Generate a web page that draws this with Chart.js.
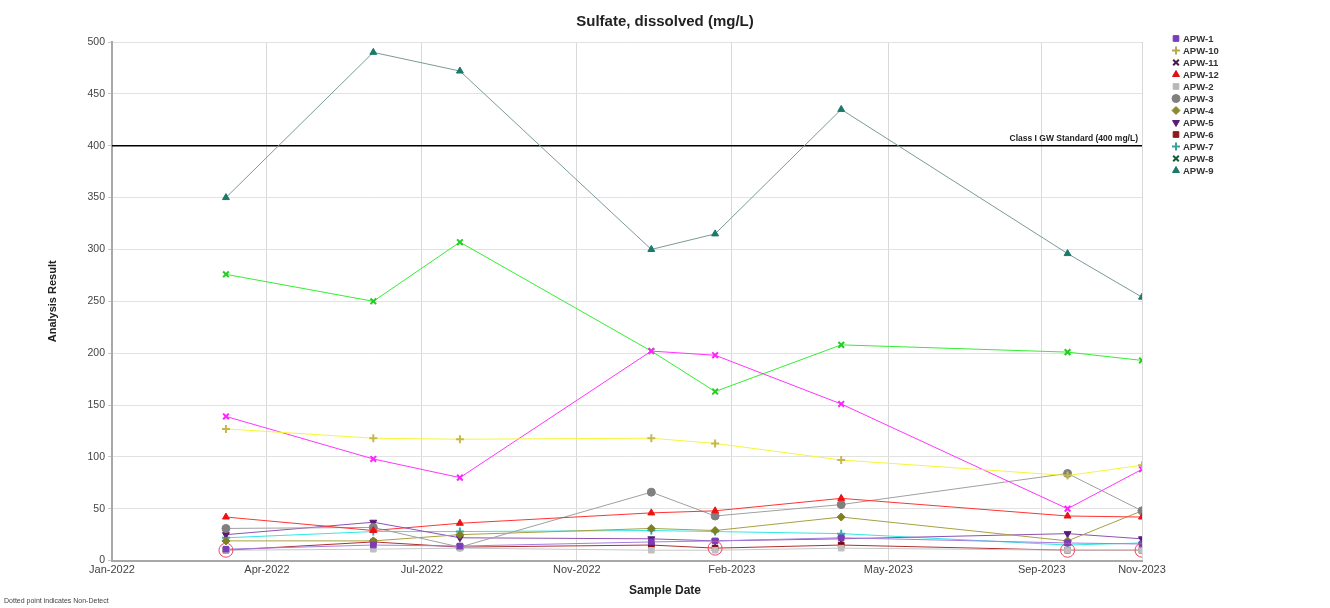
<!DOCTYPE html>
<html>
<head>
<meta charset="utf-8">
<script src="https://cdn.jsdelivr.net/npm/chart.js@4.4.0/dist/chart.umd.min.js"></script>
<style>
  body { margin: 0; background: #fff; }
  #wrap { position: relative; width: 1330px; height: 608px; }
  #note { position: absolute; left: 4px; top: 597px; font: 7px "Liberation Sans", Arial, sans-serif; color: #444; }
</style>
</head>
<body>
<div id="wrap">
  <canvas id="chart" width="1330" height="608"></canvas>
  <div id="note">Dotted point indicates Non-Detect</div>
</div>
<script>
// sample dates and results (mg/L)
const sampleDates = ['2022-03-17', '2022-06-22', '2022-08-18', '2022-12-22', '2023-02-02', '2023-04-26', '2023-09-22', '2023-11-10'];
const tickDates = ['2022-01-01', '2022-04-13', '2022-07-24', '2022-11-03', '2023-02-13', '2023-05-27', '2023-09-05', '2023-11-10'];
const tickLabels = ['Jan-2022', 'Apr-2022', 'Jul-2022', 'Nov-2022', 'Feb-2023', 'May-2023', 'Sep-2023', 'Nov-2023'];

const apw1 = [11, 15, 14, 18, 19, 22, 17, 16];
const apw10 = [127, 118, 117, 118, 113, 97, 82, 92];
const apw11 = [139, 98, 80, 202, 198, 151, 50, 88];
const apw12 = [42, 29, 36, 46, 48, 60, 43, 42];
const apw2 = [10, 11, 12, 10, 10, 12, 10, 10];
const apw3 = [31, 32, 13, 66, 43, 54, 84, 48];
const apw4 = [19, 19, 25, 31, 29, 42, 19, 48];
const apw5 = [25, 37, 22, 21, 19, 21, 26, 21];
const apw6 = [10, 18, 13, 15, 12, 15, 10, 10];
const apw7 = [22, 28, 28, 29, 28, 26, 15, 17];
const apw8 = [276, 250, 307, 202, 163, 208, 201, 193];
const apw9 = [350, 490, 472, 300, 315, 435, 296, 254];

const apw6NonDetect = [true, false, false, false, true, false, true, true];
const gwStandard = 400;

const t0 = Date.parse(tickDates[0]);
const dayOf = d => (Date.parse(d) - t0) / 86400000;
const xMax = dayOf(tickDates[tickDates.length - 1]);
const tickDays = tickDates.map(dayOf);

function pts(values) {
    return values.map((v, i) => ({ x: dayOf(sampleDates[i]), y: v }));
}

function series(label, values, line, marker, legendColor, style, extra) {
    return Object.assign({
        label: label,
        data: pts(values),
        borderColor: line,
        borderWidth: 1,
        pointStyle: style,
        pointRadius: 4,
        pointBackgroundColor: marker,
        pointBorderColor: marker,
        pointBorderWidth: 1,
        legendColor: legendColor,
        inLegend: true,
        tension: 0
    }, extra || {});
}

const ndPoints = [];
apw6.forEach((v, i) => {
    if (apw6NonDetect[i]) ndPoints.push({ x: dayOf(sampleDates[i]), y: v });
});

const datasets = [
    {
        label: 'Non-Detect',
        data: ndPoints,
        showLine: false,
        pointStyle: 'circle',
        pointRadius: 7,
        pointBackgroundColor: 'rgba(0,0,0,0)',
        pointBorderColor: '#ee4466',
        pointBorderWidth: 1
    },
    series('APW-1', apw1, '#a57ee0', '#7a3db8', '#7a3db8', 'rect'),
    series('APW-10', apw10, '#f5f53a', '#c8b84a', '#b8a850', 'cross', { pointBorderWidth: 2 }),
    series('APW-11', apw11, '#ff33ff', '#ff22ff', '#4a1a4a', 'crossRot', { pointBorderWidth: 2 }),
    series('APW-12', apw12, '#ff3333', '#ee1111', '#dd1111', 'triangle'),
    series('APW-2', apw2, '#c8c8c8', '#c0c0c0', '#b8b8b8', 'rect'),
    series('APW-3', apw3, '#a0a0a0', '#808080', '#808080', 'circle'),
    series('APW-4', apw4, '#a8a040', '#808020', '#8a8a30', 'rectRot'),
    series('APW-5', apw5, '#9050b0', '#5a1a7a', '#5a1a7a', 'triangle', { pointRotation: 180 }),
    series('APW-6', apw6, '#b03030', '#800000', '#8b1a1a', 'rect'),
    series('APW-7', apw7, '#33e6e6', '#30b0b0', '#3aa0a0', 'cross', { pointBorderWidth: 2 }),
    series('APW-8', apw8, '#33ee33', '#22cc22', '#1a5a3a', 'crossRot', { pointBorderWidth: 2 }),
    series('APW-9', apw9, '#7a9a9a', '#1a7a6a', '#1a7a6a', 'triangle'),
    {
        label: 'Class I GW Standard',
        data: [{ x: 0, y: gwStandard }, { x: xMax, y: gwStandard }],
        borderColor: '#000',
        borderWidth: 1.5,
        pointRadius: 0
    }
];

const FONT = '"Liberation Sans", Arial, sans-serif';

// legend drawn at the right of the plot, plus the standard label
const sideLegend = {
    id: 'sideLegend',
    afterDraw(chart) {
        const ctx = chart.ctx;
        ctx.save();
        ctx.font = 'bold 9.5px ' + FONT;
        ctx.textBaseline = 'middle';
        ctx.textAlign = 'left';
        let y = 38.5;
        chart.data.datasets.forEach(ds => {
            if (!ds.inLegend) return;
            ctx.fillStyle = ds.legendColor;
            ctx.strokeStyle = ds.legendColor;
            ctx.lineWidth = ds.pointBorderWidth;
            Chart.helpers.drawPoint(ctx, {
                pointStyle: ds.pointStyle,
                rotation: ds.pointRotation || 0,
                radius: 4,
                borderWidth: ds.pointBorderWidth
            }, 1176, y);
            ctx.fillStyle = '#333';
            ctx.fillText(ds.label, 1183, y + 0.5);
            y += 12;
        });

        const xs = chart.scales.x, ys = chart.scales.y;
        ctx.font = 'bold 8.5px ' + FONT;
        ctx.textAlign = 'right';
        ctx.textBaseline = 'bottom';
        ctx.fillStyle = '#222';
        ctx.fillText('Class I GW Standard (400 mg/L)', xs.right - 4, ys.getPixelForValue(gwStandard) - 3);
        ctx.restore();
    }
};

new Chart(document.getElementById('chart'), {
    type: 'line',
    data: { datasets: datasets },
    plugins: [sideLegend],
    options: {
        responsive: false,
        animation: false,
        devicePixelRatio: 1,
        layout: { padding: { left: 0, right: 0, top: 0, bottom: 7 } },
        plugins: {
            legend: { display: false },
            tooltip: { enabled: false },
            title: {
                display: true,
                text: 'Sulfate, dissolved (mg/L)',
                color: '#222',
                font: { family: FONT, size: 15, weight: 'bold' },
                padding: { top: 13, bottom: 11 }
            },
            subtitle: {
                display: true,
                position: 'bottom',
                text: 'Sample Date',
                color: '#222',
                font: { family: FONT, size: 12, weight: 'bold' },
                padding: { top: 2, bottom: 3 }
            }
        },
        scales: {
            x: {
                type: 'linear',
                min: 0,
                max: xMax,
                afterBuildTicks: axis => { axis.ticks = tickDays.map(v => ({ value: v })); },
                afterFit: axis => { axis.height = 21; },
                ticks: {
                    autoSkip: false,
                    maxRotation: 0,
                    padding: 3,
                    color: '#444',
                    font: { family: FONT, size: 11 },
                    callback: (v, i) => tickLabels[i]
                },
                grid: { color: '#d9d9d9', drawTicks: false },
                border: { color: '#a8a8a8', width: 2 }
            },
            y: {
                min: 0,
                max: 500,
                afterFit: axis => { axis.width = 112; },
                ticks: {
                    stepSize: 50,
                    padding: 3,
                    color: '#444',
                    font: { family: FONT, size: 10.5 }
                },
                grid: { color: '#e2e2e2', tickLength: 4, tickColor: '#c8c8c8' },
                border: { color: '#a8a8a8', width: 2 },
                title: {
                    display: true,
                    text: 'Analysis Result',
                    color: '#222',
                    font: { family: FONT, size: 11, weight: 'bold' },
                    padding: { top: 46, bottom: 0 }
                }
            },
            // empty right-hand strip that keeps room for the legend
            legendSpace: {
                axis: 'y',
                position: 'right',
                display: true,
                ticks: { display: false },
                grid: { display: false },
                border: { display: false },
                afterFit: axis => { axis.width = 188; }
            }
        }
    }
});
</script>
</body>
</html>
